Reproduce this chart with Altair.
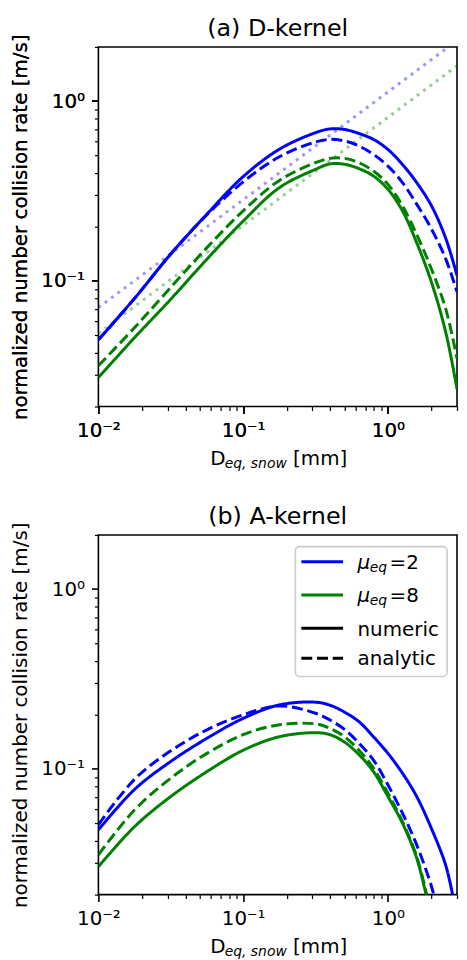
import altair as alt
import pandas as pd

FONT = "DejaVu Sans"
BLUE = "#0000ff"
GREEN = "#008000"

# ---------------- data ----------------
D_GRID = [0.01, 0.0178, 0.0316, 0.0562, 0.1, 0.178, 0.316, 0.398, 0.501,
          0.631, 0.794, 1.0, 1.26, 1.58, 2.0, 2.51, 3.0]

# (a) D-kernel
a_blue_numeric = [0.047, 0.080, 0.141, 0.235, 0.38, 0.54, 0.667, 0.70, 0.695,
                  0.66, 0.612, 0.538, 0.444, 0.352, 0.261, 0.172, 0.107]
a_blue_analytic = [0.047, 0.080, 0.141, 0.233, 0.355, 0.49, 0.592, 0.612, 0.60,
                   0.562, 0.505, 0.435, 0.352, 0.267, 0.194, 0.132, 0.087]
a_green_numeric = [0.029, 0.0484, 0.079, 0.132, 0.215, 0.33, 0.417, 0.447, 0.445,
                   0.421, 0.383, 0.323, 0.245, 0.163, 0.098, 0.0516, 0.025]
a_green_analytic = [0.0337, 0.055, 0.092, 0.153, 0.245, 0.362, 0.454, 0.48, 0.48,
                    0.454, 0.408, 0.344, 0.261, 0.181, 0.116, 0.0696, 0.037]

dot_D = [0.01, 3.0]
a_blue_dotted = [0.071, 2.17]
a_green_dotted = [0.051, 1.57]

# (b) A-kernel
b_blue_numeric_D = D_GRID[:16] + [2.85]
b_blue_numeric = [0.0458, 0.077, 0.11, 0.148, 0.191, 0.227, 0.235, 0.226, 0.207,
                  0.183, 0.151, 0.122, 0.0946, 0.0702, 0.0465, 0.029, 0.0185]
b_blue_analytic_D = D_GRID[:15] + [2.1]
b_blue_analytic = [0.0489, 0.0877, 0.126, 0.165, 0.20, 0.224, 0.204, 0.187, 0.166,
                   0.139, 0.112, 0.0815, 0.0567, 0.0378, 0.0222, 0.019]
b_green_numeric_D = D_GRID[:14] + [1.86]
b_green_numeric = [0.0286, 0.0478, 0.0702, 0.0966, 0.127, 0.151, 0.159, 0.155, 0.141,
                   0.12, 0.0966, 0.0702, 0.0499, 0.0319, 0.019]
b_green_analytic_D = D_GRID[:14] + [1.88]
b_green_analytic = [0.0333, 0.0592, 0.0888, 0.122, 0.155, 0.176, 0.178, 0.168, 0.151,
                    0.127, 0.101, 0.0733, 0.0509, 0.0325, 0.019]

MAJOR_TICKS_X = [0.01, 0.1, 1]
MINOR_TICKS_X = [0.02, 0.03, 0.04, 0.05, 0.06, 0.07, 0.08, 0.09,
                 0.2, 0.3, 0.4, 0.5, 0.6, 0.7, 0.8, 0.9, 2, 3]
MAJOR_TICKS_Y = [0.1, 1]
MINOR_TICKS_Y = [0.02, 0.03, 0.04, 0.05, 0.06, 0.07, 0.08, 0.09,
                 0.2, 0.3, 0.4, 0.5, 0.6, 0.7, 0.8, 0.9, 2]
TICK_LABEL_EXPR = ("datum.value < 0.05 ? '10\u207b\u00b2' : "
                   "datum.value < 0.5 ? '10\u207b\u00b9' : '10\u2070'")

TITLES = ["(a) D-kernel", "(b) A-kernel"]
Y_TITLE = "normalized number collision rate [m/s]"
LEGEND_LABELS = ["=2", "=8", "numeric", "analytic"]


def sdf(D, v, mu, kind):
    return pd.DataFrame({"D": D, "v": v, "mu": mu, "kind": kind,
                         "series": f"{mu}-{kind}"})


df_a = pd.concat([
    sdf(D_GRID, a_blue_numeric, "2", "numeric"),
    sdf(D_GRID, a_green_numeric, "8", "numeric"),
    sdf(D_GRID, a_blue_analytic, "2", "analytic"),
    sdf(D_GRID, a_green_analytic, "8", "analytic"),
])
df_a_dot = pd.concat([
    sdf(dot_D, a_blue_dotted, "2", "dotted"),
    sdf(dot_D, a_green_dotted, "8", "dotted"),
])
df_b = pd.concat([
    sdf(b_blue_numeric_D, b_blue_numeric, "2", "numeric"),
    sdf(b_green_numeric_D, b_green_numeric, "8", "numeric"),
    sdf(b_blue_analytic_D, b_blue_analytic, "2", "analytic"),
    sdf(b_green_analytic_D, b_green_analytic, "8", "analytic"),
])

W, H = 361, 362
CX = W / 2

xscale = alt.Scale(type="log", domain=[0.01, 3], nice=False)
yscale = alt.Scale(type="log", domain=[0.02, 2], nice=False)
color_scale = alt.Scale(domain=["2", "8"], range=[BLUE, GREEN])
dash_scale = alt.Scale(domain=["numeric", "analytic"], range=[[1, 0], [11, 4.8]])

major_x = alt.Axis(orient="bottom", values=MAJOR_TICKS_X, labelExpr=TICK_LABEL_EXPR,
                   tickSize=7, tickWidth=1.6, tickColor="black", domain=False,
                   grid=False, labelFont=FONT, labelFontSize=20, labelColor="black",
                   labelPadding=7, labelFlush=False, labelOverlap=False, title=None)
major_y = alt.Axis(orient="left", values=MAJOR_TICKS_Y, labelExpr=TICK_LABEL_EXPR,
                   tickSize=7, tickWidth=1.6, tickColor="black", domain=False,
                   grid=False, labelFont=FONT, labelFontSize=20, labelColor="black",
                   labelPadding=7, labelOverlap=False, title=Y_TITLE,
                   titleFont=FONT, titleFontSize=20, titleFontWeight="normal",
                   titleColor="black", titleX=-72, titleY=H / 2, titleAngle=270,
                   titleBaseline="alphabetic", titleAlign="center")
minor_x = alt.Axis(orient="bottom", values=MINOR_TICKS_X, labels=False, tickSize=4,
                   tickWidth=1.2, tickColor="black", domain=False, grid=False,
                   title=None)
minor_y = alt.Axis(orient="left", values=MINOR_TICKS_Y, labels=False, tickSize=4,
                   tickWidth=1.2, tickColor="black", domain=False, grid=False,
                   title=None)


def txt(s, x, y, size=20, style="normal", align="left"):
    return alt.Chart(alt.Data(values=[{"t": s}])).mark_text(
        font=FONT, fontSize=size, fontStyle=style, align=align,
        baseline="alphabetic", color="black"
    ).encode(x=alt.value(x), y=alt.value(y), text="t:N")


def hline(x1, x2, y, color, dash):
    return alt.Chart(alt.Data(values=[{}])).mark_rule(
        strokeWidth=3, color=color, strokeDash=dash
    ).encode(x=alt.value(x1), x2=alt.value(x2), y=alt.value(y))


def titles(title):
    return [txt(title, CX, -10.7, size=24, align="center"),
            txt("D", CX - 68, H + 59.3),
            txt("eq, snow", CX - 53.4, H + 62.3, size=14, style="italic"),
            txt("[mm]", CX + 15.5, H + 59.3)]


def legend_layers():
    L = W - 100.2
    return [
        alt.Chart(alt.Data(values=[{}])).mark_rect(
            fill="white", fillOpacity=0.8, stroke="#cccccc", strokeWidth=1.6,
            cornerRadius=4).encode(
            x=alt.value(W - 162.7), x2=alt.value(W - 10),
            y=alt.value(11.7), y2=alt.value(142.4)),
        hline(W - 156.7, W - 114.7, 27, BLUE, [1, 0]),
        hline(W - 156.7, W - 114.7, 60.4, GREEN, [1, 0]),
        hline(W - 156.7, W - 114.7, 94, "black", [1, 0]),
        hline(W - 156.7, W - 114.7, 124, "black", [11, 4.8]),
        txt("\u03bc", L, 34.4, style="italic"),
        txt("eq", L + 12.3, 37.4, size=14, style="italic"),
        txt(LEGEND_LABELS[0], L + 32.3, 34.4),
        txt("\u03bc", L, 67.7, style="italic"),
        txt("eq", L + 12.3, 70.7, size=14, style="italic"),
        txt(LEGEND_LABELS[1], L + 32.3, 67.7),
        txt(LEGEND_LABELS[2], L, 101.7),
        txt(LEGEND_LABELS[3], L, 130.7),
    ]


def panel(df, title, dotted=None, legend=False):
    layers = []
    # invisible layer carrying the minor ticks
    layers.append(alt.Chart(df).transform_filter("datum.v >= 0.02").mark_point(
        opacity=0, size=1).encode(
        x=alt.X("D:Q", scale=xscale, axis=minor_x),
        y=alt.Y("v:Q", scale=yscale, axis=minor_y)))
    if dotted is not None:
        layers.append(alt.Chart(dotted).mark_line(
            clip=True, strokeWidth=3, opacity=0.4, strokeDash=[3, 5]).encode(
            x=alt.X("D:Q", scale=xscale, axis=major_x),
            y=alt.Y("v:Q", scale=yscale, axis=major_y),
            color=alt.Color("mu:N", scale=color_scale, legend=None),
            detail="series:N"))
    layers.append(alt.Chart(df).mark_line(
        clip=True, strokeWidth=3, interpolate="catmull-rom").encode(
        x=alt.X("D:Q", scale=xscale, axis=major_x),
        y=alt.Y("v:Q", scale=yscale, axis=major_y),
        color=alt.Color("mu:N", scale=color_scale, legend=None),
        strokeDash=alt.StrokeDash("kind:N", scale=dash_scale, legend=None),
        detail="series:N"))
    layers += titles(title)
    if legend:
        layers += legend_layers()
    return alt.layer(*layers).resolve_axis(
        x="independent", y="independent"
    ).properties(width=W, height=H)


chart = alt.vconcat(
    panel(df_a, TITLES[0], dotted=df_a_dot),
    panel(df_b, TITLES[1], legend=True),
    spacing=129.3,
    bounds="flush",
).properties(
    padding={"left": 2, "top": 5, "right": 0, "bottom": 0},
).configure_view(stroke="black", strokeWidth=1.6, fill="white")

chart.save("out.html", embed_options={"renderer": "svg", "actions": False})
